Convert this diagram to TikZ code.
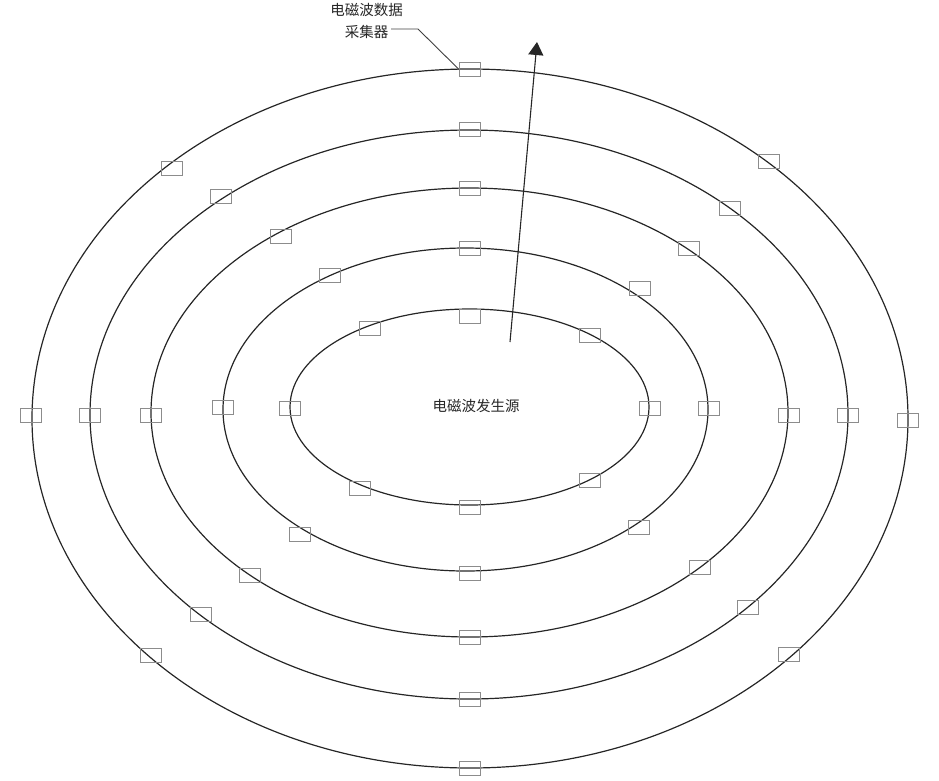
\documentclass[tikz,border=0pt]{standalone}
\usepackage{fontspec}
\newfontfamily\cjk{Noto Sans CJK SC}
\usetikzlibrary{arrows.meta}
\begin{document}
\begin{tikzpicture}[x=1pt,y=-1pt,
  ring/.style={draw=black!85, line width=1.2pt},
  sensor/.style={draw=black!45, line width=0.9pt, minimum width=21pt, minimum height=14pt, inner sep=0pt},
  lbl/.style={font=\cjk\fontsize{14.5}{22}\selectfont, text=black!85, align=center, inner sep=0pt}]
\useasboundingbox (0,0) rectangle (939,780);
% rings
\draw[ring] (470,418.5) ellipse [x radius=438, y radius=349.5];
\draw[ring] (469,414.5) ellipse [x radius=379, y radius=284.5];
\draw[ring] (469.5,412.5) ellipse [x radius=318.5, y radius=224.5];
\draw[ring] (465.5,409.5) ellipse [x radius=242.5, y radius=161.5];
\draw[ring] (469.5,407) ellipse [x radius=179.5, y radius=98];
% sensors ring 1
\node[sensor] (a1) at (470,69.5) {};
\node[sensor] (a2) at (31,415) {};
\node[sensor] (a3) at (908,420) {};
\node[sensor] (a4) at (470,768) {};
\node[sensor] (a5) at (172,168) {};
\node[sensor] (a6) at (769,161) {};
\node[sensor] (a7) at (151,655) {};
\node[sensor] (a8) at (789,654) {};
% ring 2
\node[sensor] (b1) at (470,129.5) {};
\node[sensor] (b2) at (90,415) {};
\node[sensor] (b3) at (848,415) {};
\node[sensor] (b4) at (470,699) {};
\node[sensor] (b5) at (221,196) {};
\node[sensor] (b6) at (730,208) {};
\node[sensor] (b7) at (201,614) {};
\node[sensor] (b8) at (748,607) {};
% ring 3
\node[sensor] (c1) at (470,188) {};
\node[sensor] (c2) at (151,415) {};
\node[sensor] (c3) at (789,415) {};
\node[sensor] (c4) at (470,637) {};
\node[sensor] (c5) at (281,236) {};
\node[sensor] (c6) at (689,248) {};
\node[sensor] (c7) at (250,575) {};
\node[sensor] (c8) at (700,567) {};
% ring 4
\node[sensor] (d1) at (470,248) {};
\node[sensor] (d2) at (223,407) {};
\node[sensor] (d3) at (709,408) {};
\node[sensor] (d4) at (470,573) {};
\node[sensor] (d5) at (330,275) {};
\node[sensor] (d6) at (640,288) {};
\node[sensor] (d7) at (300,534) {};
\node[sensor] (d8) at (639,527) {};
% ring 5
\node[sensor] (e1) at (470,316) {};
\node[sensor] (e2) at (290,408) {};
\node[sensor] (e3) at (650,408) {};
\node[sensor] (e4) at (470,507) {};
\node[sensor] (e5) at (370,328) {};
\node[sensor] (e6) at (590,335) {};
\node[sensor] (e7) at (360,488) {};
\node[sensor] (e8) at (590,480) {};
% labels
\node[lbl] (src) at (476,406) {电磁波发生源};
\node[lbl] (col) at (366.5,21) {电磁波数据\\采集器};
\coordinate (lstart) at (391,29);
\coordinate (bend) at (418,29);
\draw[black!75, line width=0.9pt] (lstart) -- (bend) -- (a1.west);
% arrow
\coordinate (as) at (510,342);
\coordinate (ae) at (537,42);
\draw[black!85, line width=1.1pt, -{Triangle[length=13pt,width=15pt]}] (as) -- (ae);
\end{tikzpicture}
\end{document}
